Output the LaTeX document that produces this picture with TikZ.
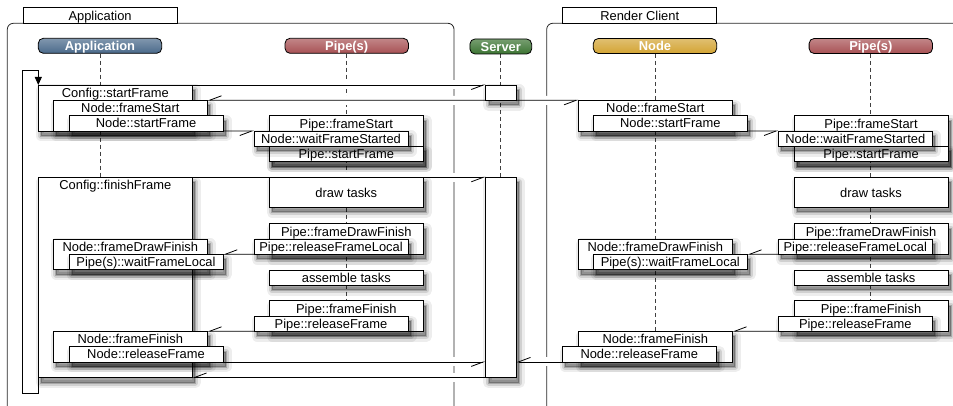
\documentclass[tikz,border=0pt]{standalone}
\usepackage{fontspec}
\setmainfont{Liberation Sans}
\usetikzlibrary{arrows.meta}

\definecolor{appblue}{HTML}{4B6A8B}
\definecolor{pipered}{HTML}{A85255}
\definecolor{servergreen}{HTML}{3C7433}
\definecolor{nodegold}{HTML}{D3A434}

\pgfdeclarelayer{frames}
\pgfdeclarelayer{messages}
\pgfsetlayers{frames,messages,main}

\begin{document}
\begin{tikzpicture}[
x=1pt,y=1pt,
font=\fontsize{12.9pt}{14pt}\selectfont,
softshadow/.style={
	preaction={draw=black, draw opacity=.07, line width=11pt, line join=round,
		fill=black, fill opacity=.3, transform canvas={xshift=3pt,yshift=-5pt}},
	preaction={draw=black, draw opacity=.12, line width=6pt, line join=round,
		transform canvas={xshift=3pt,yshift=-5pt}},
	preaction={draw=black, draw opacity=.2, line width=2pt,
		transform canvas={xshift=3pt,yshift=-5pt}}},
callbox/.style={
	% The shape:
	rectangle, anchor=north west,
	% The size:
	minimum width=154pt, minimum height=15.3pt,
	inner sep=0pt, outer sep=0pt,
	text height=11pt, text depth=1.7pt,
	% The border:
	draw=black, line width=0.8pt,
	% The filling:
	fill=white,
	% The shadow:
	softshadow},
callhead/.style={
	anchor=north, inner sep=0pt, minimum height=15.3pt,
	text height=11pt, text depth=1.7pt},
lifehead/.style={
	% The shape:
	rectangle, rounded corners=5pt,
	minimum height=15pt, inner sep=0pt,
	text height=11pt, text depth=1.7pt,
	% The border:
	draw=black, line width=0.8pt,
	% The filling:
	top color=#1!70!white, bottom color=#1,
	% Font
	text=white, font=\fontsize{12.9pt}{14pt}\selectfont\bfseries},
grouptab/.style={
	rectangle, anchor=north west,
	minimum width=154pt, minimum height=15.4pt, inner sep=0pt,
	text height=11pt, text depth=1.7pt,
	draw=black, line width=0.8pt, fill=white},
groupframe/.style={draw=black!85, line width=0.8pt, rounded corners=6pt},
lifeline/.style={draw=black!75, line width=0.8pt, dash pattern=on 4pt off 3pt},
msg/.style={
	line width=0.8pt,
	-{Straight Barb[harpoon,swap,length=12pt,width=9pt]},
	preaction={draw=white, line width=9pt, -}},
loopback/.style={line width=0.8pt, -{Triangle[length=8pt,width=7pt]}},
]
\useasboundingbox (0,0) rectangle (953,-406);

% group tabs
\node[grouptab] (apptab) at (22.7,-7.3) {Application};
\node[grouptab] (rendertab) at (562.3,-7.3) {Render Client};

% lifeline heads
\node[lifehead=appblue, minimum width=123.4pt] (apphead) at (100,-45.8) {Application};
\node[lifehead=pipered, minimum width=123.4pt] (pipehead) at (346.7,-45.8) {Pipe(s)};
\node[lifehead=servergreen, minimum width=61.7pt] (srvhead) at (500.8,-46.5) {Server};
\node[lifehead=nodegold, minimum width=123.4pt] (nodehead) at (655,-46) {Node};
\node[lifehead=pipered, minimum width=123.4pt] (rpipehead) at (870.8,-46) {Pipe(s)};

% application: start frame
\node[callbox, minimum height=46pt, label={[callhead]north:Config::startFrame}] (cfgstart) at (38.3,-85) {};
\node[callbox, minimum height=30.7pt, label={[callhead]north:Node::frameStart}] (appfs) at (53.3,-100.3) {};
\node[callbox] (appsf) at (69,-115.7) {Node::startFrame};

% application pipe
\node[callbox, minimum height=46pt, label={[callhead]north:Pipe::frameStart}] (pfs) at (269.3,-115.7) {};
\node[callbox] (psf) at (269.3,-146.3) {Pipe::startFrame};
\node[callbox] (wfs) at (254,-131) {Node::waitFrameStarted};
\node[callbox, minimum height=30.2pt] (pdraw) at (269.3,-177.3) {draw tasks};
\node[callbox, minimum height=30.6pt, label={[callhead]north:Pipe::frameDrawFinish}] (pdfin) at (269.3,-223.7) {};
\node[callbox] (prfl) at (254,-239) {Pipe::releaseFrameLocal};
\node[callbox] (pasm) at (269.3,-270) {assemble tasks};
\node[callbox, minimum height=30.6pt, label={[callhead]north:Pipe::frameFinish}] (pffin) at (269.3,-300.7) {};
\node[callbox] (prf) at (254,-316) {Pipe::releaseFrame};

% application: finish frame
\node[callbox, minimum height=200.2pt, label={[callhead]north:Config::finishFrame}] (cfgfin) at (38.3,-177.3) {};
\node[callbox, minimum height=30.6pt, label={[callhead]north:Node::frameDrawFinish}] (appdfin) at (53.3,-239) {};
\node[callbox] (appwfl) at (69,-254.3) {Pipe(s)::waitFrameLocal};
\node[callbox, minimum height=30.6pt, label={[callhead]north:Node::frameFinish}] (appffin) at (53.3,-331.3) {};
\node[callbox] (apprf) at (69,-346.6) {Node::releaseFrame};

% server
\node[callbox, minimum width=30.8pt] (srv1) at (485.5,-85) {};
\node[callbox, minimum width=30.8pt, minimum height=200.2pt] (srv2) at (485.5,-177.3) {};

% render client node
\node[callbox, minimum height=30.7pt, label={[callhead]north:Node::frameStart}] (rnfs) at (578.3,-100.3) {};
\node[callbox] (rnsf) at (593.3,-115.7) {Node::startFrame};
\node[callbox, minimum height=30.6pt, label={[callhead]north:Node::frameDrawFinish}] (rndfin) at (578.3,-239) {};
\node[callbox] (rnwfl) at (593.3,-254.3) {Pipe(s)::waitFrameLocal};
\node[callbox, minimum height=30.6pt, label={[callhead]north:Node::frameFinish}] (rnffin) at (578.3,-331.3) {};
\node[callbox] (rnrf) at (562.3,-346.6) {Node::releaseFrame};

% render client pipe
\node[callbox, minimum height=46pt, label={[callhead]north:Pipe::frameStart}] (rpfs) at (794,-115.7) {};
\node[callbox] (rpsf) at (794,-146.3) {Pipe::startFrame};
\node[callbox] (rwfs) at (778.3,-131) {Node::waitFrameStarted};
\node[callbox, minimum height=30.2pt] (rdraw) at (794,-177.3) {draw tasks};
\node[callbox, minimum height=30.6pt, label={[callhead]north:Pipe::frameDrawFinish}] (rpdfin) at (794,-223.7) {};
\node[callbox] (rprfl) at (778.3,-239) {Pipe::releaseFrameLocal};
\node[callbox] (rpasm) at (794,-270) {assemble tasks};
\node[callbox, minimum height=30.6pt, label={[callhead]north:Pipe::frameFinish}] (rpffin) at (794,-300.7) {};
\node[callbox] (rprf) at (778.3,-316) {Pipe::releaseFrame};

% frame loop
\coordinate (loopcorner) at (22.7,-70);
\draw[loopback] (cfgfin.south west) -- ++(0,-16) -| (loopcorner) -| (cfgstart.north west);

\begin{pgfonlayer}{frames}
\draw[groupframe] (7.3,-412) |- (454,-23.3) -- (454,-412);
\draw[groupframe] (546.7,-412) |- (960,-23.3);
\draw[lifeline] (apphead.south) -- (apphead.south |- cfgfin.north);
\draw[lifeline] (pipehead.south) -- (pipehead.south |- pffin.north);
\draw[lifeline] (srvhead.south) -- (srvhead.south |- srv2.north);
\draw[lifeline] (nodehead.south) -- (nodehead.south |- rnffin.north);
\draw[lifeline] (rpipehead.south) -- (rpipehead.south |- rpffin.north);
\end{pgfonlayer}

\begin{pgfonlayer}{messages}
\draw[msg] (cfgstart.north east) -- (srv1.north west);
\draw[msg] (srv1.south west) -- (appfs.north east);
\draw[msg] (srv1.south east) -- (rnfs.north west);
\draw[msg] (appsf.south east) -- (wfs.north west);
\draw[msg] (rnsf.south east) -- (rwfs.north west);
\draw[msg] (cfgfin.north east) -- (srv2.north west);
\draw[msg] (prfl.south west) -- (appwfl.north east);
\draw[msg] (rprfl.south west) -- (rnwfl.north east);
\draw[msg] (prf.south west) -- (appffin.north east);
\draw[msg] (rprf.south west) -- (rnffin.north east);
\draw[msg] (apprf.south east) -- (apprf.south east -| srv2.west);
\draw[msg] (rnrf.south west) -- (rnrf.south west -| srv2.east);
\draw[msg] (srv2.south west) -- (cfgfin.south east);
\end{pgfonlayer}
\end{tikzpicture}
\end{document}
